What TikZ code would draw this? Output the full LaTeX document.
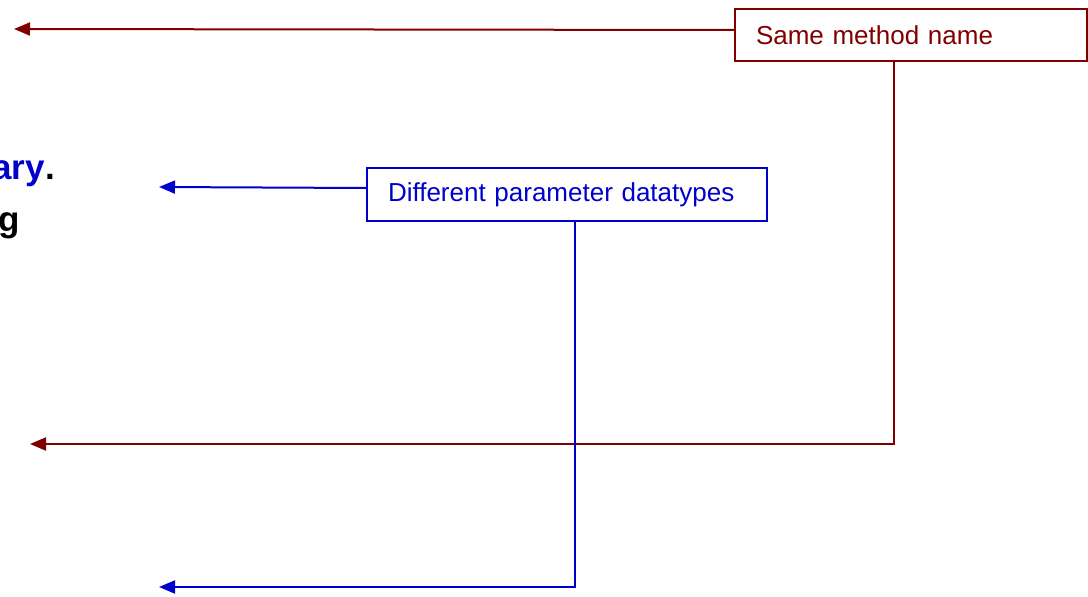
\documentclass[tikz,border=0pt]{standalone}
\usepackage{fontspec}
\setmainfont{Liberation Sans}
\usetikzlibrary{arrows.meta}
\definecolor{dred}{RGB}{128,0,0}
\definecolor{dblue}{RGB}{0,0,204}
\tikzset{
  callout/.style={draw, line width=2pt, rectangle, anchor=north west, inner xsep=21pt, inner ysep=0pt, align=left, font=\fontsize{26}{30}\selectfont},
  redbox/.style={callout, draw=dred, text=dred},
  bluebox/.style={callout, draw=dblue, text=dblue},
  conn/.style={line width=2pt, -{Triangle[length=16pt,width=13pt]}},
  redconn/.style={conn, draw=dred},
  blueconn/.style={conn, draw=dblue},
  frag/.style={anchor=base east, inner sep=0pt, font=\fontsize{35}{40}\selectfont\bfseries}
}
\begin{document}
\begin{tikzpicture}[x=1pt,y=-1pt]
\useasboundingbox (0,0) rectangle (1088,597);
\clip (0,0) rectangle (1088,597);
% left text fragments
\node[frag] (frag1) at (55,179) {\textcolor{dblue}{ary}.};
\node[frag] (frag2) at (20,231) {g};
% boxes
\node[redbox, text width=310pt, minimum height=52pt] (same) at (734,8) {\raisebox{-1pt}{Same method name}};
\node[bluebox, text width=358pt, minimum height=53pt] (diff) at (366,167) {\raisebox{-2.5pt}{Different parameter datatypes}};
% arrow end points
\coordinate (rtip1) at (14,29);
\coordinate (rtip2) at (30,444);
\coordinate (btip1) at (159,187);
\coordinate (btip2) at (159,587);
% connectors
\draw[redconn] ([yshift=5pt]same.west) -- (rtip1);
\draw[redconn] ([xshift=-17pt]same.south) |- (rtip2);
\draw[blueconn] ([yshift=6.5pt]diff.west) -- (btip1);
\draw[blueconn] ([xshift=8pt]diff.south) |- (btip2);
\end{tikzpicture}
\end{document}
